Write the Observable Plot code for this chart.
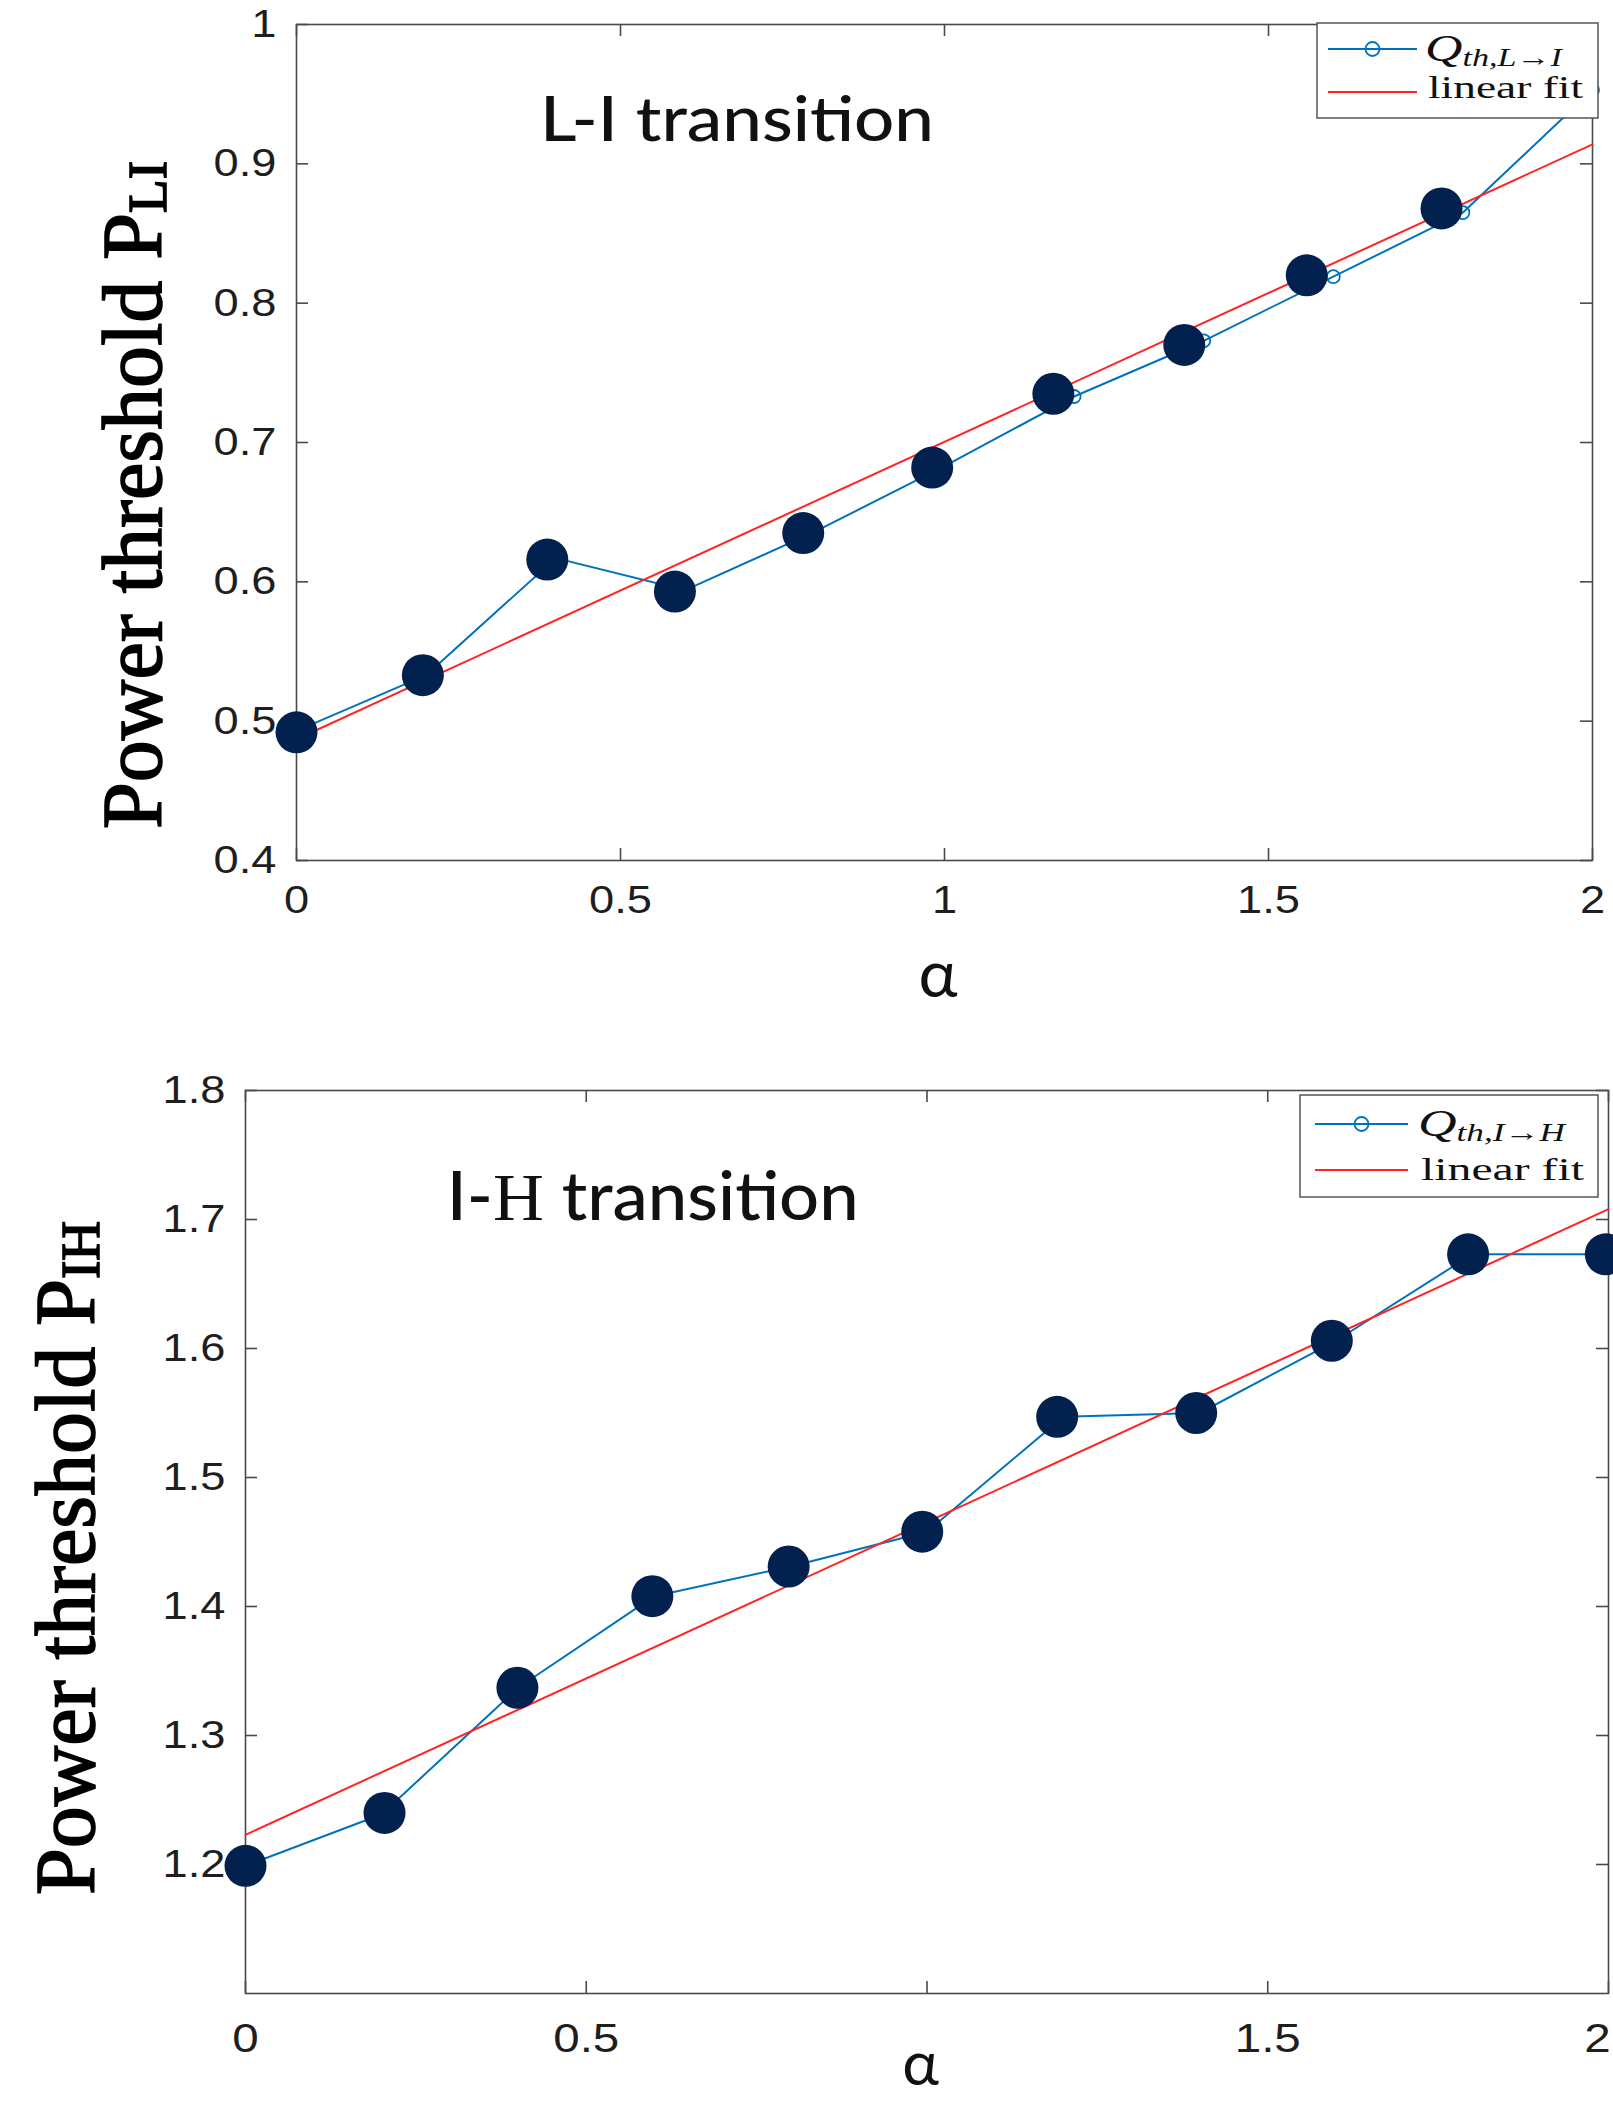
<!DOCTYPE html>
<html><head><meta charset="utf-8">
<script src="https://cdn.jsdelivr.net/npm/d3@7"></script>
<script src="https://cdn.jsdelivr.net/npm/@observablehq/plot@0.6"></script>
<style>
html,body{margin:0;padding:0;background:#fff;overflow:hidden;}
#wrap{position:relative;width:1613px;height:2101px;background:#fff;}
#wrap svg{display:block;position:absolute;left:0;overflow:visible;max-width:none;}
</style></head><body><div id="wrap"></div>
<script>
// ---------- data ----------
// L-I transition
const alphaLI    = [0, 0.2, 0.4, 0.6, 0.8, 1.0, 1.2, 1.4, 1.6, 1.8, 2.0];
const qLI        = [0.493, 0.533, 0.617, 0.594, 0.636, 0.683, 0.733, 0.773, 0.819, 0.865, 0.953];
const dotAlphaLI = [0, 0.195, 0.387, 0.584, 0.782, 0.981, 1.168, 1.370, 1.559, 1.767];
const dotLI      = [0.492, 0.533, 0.616, 0.593, 0.635, 0.682, 0.735, 0.770, 0.820, 0.868];
const fitAlpha   = [0, 2];
const fitLI      = [0.487, 0.914];
// I-H transition
const alphaIH    = [0, 0.2, 0.4, 0.6, 0.8, 1.0, 1.2, 1.4, 1.6, 1.8, 2.0];
const qIH        = [1.199, 1.239, 1.337, 1.408, 1.431, 1.458, 1.547, 1.550, 1.606, 1.673, 1.673];
const dotAlphaIH = [0, 0.204, 0.399, 0.597, 0.797, 0.993, 1.191, 1.395, 1.594, 1.794, 1.996];
const dotIH      = [1.199, 1.240, 1.337, 1.408, 1.431, 1.458, 1.547, 1.550, 1.606, 1.673, 1.673];
const fitIH      = [1.223, 1.708];
// ticks
const xTicks        = [0, 0.5, 1, 1.5, 2];
const xTickLabelsLI = ["0", "0.5", "1", "1.5", "2"];
const xTickLabelsIH = ["0", "0.5", "", "1.5", "2"];
const yTicksLI      = [0.4, 0.5, 0.6, 0.7, 0.8, 0.9, 1];
const yTickLabelsLI = ["0.4", "0.5", "0.6", "0.7", "0.8", "0.9", "1"];
const yTicksIH      = [1.2, 1.3, 1.4, 1.5, 1.6, 1.7, 1.8];
const yTickLabelsIH = ["1.2", "1.3", "1.4", "1.5", "1.6", "1.7", "1.8"];

// ---------- styles ----------
const BLUE = "#0072BD", RED = "#ff2424", NAVY = "#03214f", AXIS = "#4a4a4a", TXT = "#1e1e1e";
const SANS = "'Liberation Sans', Arial, sans-serif";
const SERIF = "'Liberation Serif', 'Times New Roman', serif";
const HUM = "Lato, 'Open Sans', sans-serif";

function chart(o) {
  const fw = o.width - o.ml - o.mr, fh = o.height - o.mt - o.mb, TL = 12;
  const idxL = d3.range(o.lineX.length), idxD = d3.range(o.dotX.length);
  const xlab = new Map(xTicks.map((t, i) => [t, o.xLabels[i]]));
  const ylab = new Map(o.yTicks.map((t, i) => [t, o.yLabels[i]]));
  const svg = Plot.plot({
    width: o.width, height: o.height,
    marginTop: o.mt, marginBottom: o.mb, marginLeft: o.ml, marginRight: o.mr,
    style: {fontFamily: SANS, fontSize: "39px", color: TXT, background: "transparent", overflow: "visible"},
    x: {domain: [0, 2]},
    y: {domain: o.yDomain},
    marks: [
      Plot.frame({stroke: AXIS, strokeWidth: 1.6}),
      Plot.tickX(xTicks, {x: d => d, stroke: AXIS, strokeWidth: 1.6, insetTop: fh - TL}),
      Plot.tickX(xTicks, {x: d => d, stroke: AXIS, strokeWidth: 1.6, insetBottom: fh - TL}),
      Plot.tickY(o.yTicks, {y: d => d, stroke: AXIS, strokeWidth: 1.6, insetRight: fw - TL}),
      Plot.tickY(o.yTicks, {y: d => d, stroke: AXIS, strokeWidth: 1.6, insetLeft: fw - TL}),
      Plot.axisX({anchor: "bottom", ticks: xTicks, tickSize: 0, tickPadding: o.xPad, label: null,
                  tickFormat: d => xlab.get(d), fontSize: o.xFont, fill: TXT}),
      Plot.axisY({anchor: "left", ticks: o.yTicks, tickSize: 0, tickPadding: 20, label: null,
                  tickFormat: d => ylab.get(d), fontSize: 39, fill: TXT}),
      Plot.line(idxL, {x: i => o.lineX[i], y: i => o.lineY[i], stroke: BLUE, strokeWidth: 2}),
      Plot.dot(idxL, {x: i => o.lineX[i], y: i => o.lineY[i], r: 6.5, stroke: BLUE, strokeWidth: 1.8, fill: "none"}),
      Plot.line([0, 1], {x: i => fitAlpha[i], y: i => o.fitY[i], stroke: RED, strokeWidth: 2}),
      Plot.dot(idxD, {x: i => o.dotX[i], y: i => o.dotY[i], r: 21, fill: NAVY, stroke: "none"})
    ]
  });
  const s = d3.select(svg);
  // MATLAB-like horizontally stretched tick labels
  s.selectAll('g[aria-label="x-axis tick label"] text, g[aria-label="y-axis tick label"] text')
    .attr("transform", function () { return (this.getAttribute("transform") || "") + " scale(1.16,1)"; });
  // keep the last x label inside the page when the frame reaches the edge
  if (o.lastLabelEnd) {
    s.selectAll('g[aria-label="x-axis tick label"] text').filter(function () { return this.textContent === "2"; })
      .attr("text-anchor", "end").attr("dx", 2);
  }
  const X = svg.scale("x"), Y = svg.scale("y");

  // in-plot title
  const t = s.append("text")
    .attr("x", X.apply(o.title.x)).attr("y", Y.apply(o.title.y)).attr("text-anchor", "start")
    .attr("font-family", HUM).attr("font-weight", 500).attr("font-size", o.title.size)
    .attr("fill", "#111").attr("textLength", o.title.len).attr("lengthAdjust", "spacingAndGlyphs");
  o.title.parts.forEach(p => t.append("tspan").attr("font-family", p.serif ? SERIF : HUM).text(p.t));

  // alpha axis title
  s.append("text").attr("x", X.apply(1) - 6).attr("y", o.height - o.mb + o.alphaDy)
    .attr("text-anchor", "middle").attr("font-family", HUM).attr("font-size", o.alphaSize).attr("fill", "#111").text("α");

  // y axis title
  const yl = s.append("text")
    .attr("transform", `translate(${o.ylab.x},${o.ylab.y}) rotate(-90)`)
    .attr("text-anchor", "middle").attr("font-family", SERIF).attr("font-size", 84)
    .attr("fill", "#000").attr("stroke", "#000").attr("stroke-width", 1.6);
  yl.append("tspan").text("Power threshold P");
  yl.append("tspan").attr("font-size", 55).attr("dy", 5).text(o.ylab.sub);

  // legend
  const L = o.legend;
  const g = s.append("g").attr("text-anchor", "start");
  g.append("rect").attr("x", L.x0).attr("y", L.y0).attr("width", L.x1 - L.x0).attr("height", L.y1 - L.y0)
    .attr("fill", "#fff").attr("stroke", "#555").attr("stroke-width", 1.5);
  g.append("line").attr("x1", L.lx0).attr("x2", L.lx1).attr("y1", L.r1).attr("y2", L.r1)
    .attr("stroke", BLUE).attr("stroke-width", 2);
  g.append("circle").attr("cx", (L.lx0 + L.lx1) / 2).attr("cy", L.r1).attr("r", 7)
    .attr("fill", "none").attr("stroke", BLUE).attr("stroke-width", 1.8);
  g.append("line").attr("x1", L.lx0).attr("x2", L.lx1).attr("y1", L.r2).attr("y2", L.r2)
    .attr("stroke", RED).attr("stroke-width", 2);
  const q = g.append("text").attr("x", L.tx).attr("y", L.b1).attr("text-anchor", "start").attr("font-family", SERIF)
    .attr("font-style", "italic").attr("font-size", 38).attr("fill", "#111")
    .attr("textLength", L.qlen).attr("lengthAdjust", "spacingAndGlyphs");
  q.append("tspan").text("Q");
  q.append("tspan").attr("font-size", 25).attr("dy", 5).text(L.qsub);
  g.append("text").attr("x", L.tx + 3).attr("y", L.b2).attr("text-anchor", "start").attr("font-family", SERIF).attr("font-size", 32)
    .attr("fill", "#111").attr("textLength", L.flen).attr("lengthAdjust", "spacingAndGlyphs").text("linear fit");
  return svg;
}

const chartLI = chart({
  width: 1613, height: 1040, mt: 24, mb: 180, ml: 296, mr: 21,
  yDomain: [0.4, 1], yTicks: yTicksLI, yLabels: yTickLabelsLI, xLabels: xTickLabelsLI,
  xFont: 39, xPad: 25, alphaDy: 137, alphaSize: 66,
  lineX: alphaLI, lineY: qLI, dotX: dotAlphaLI, dotY: dotLI, fitY: fitLI,
  title: {x: 0.3765, y: 0.916, size: 61, len: 394, parts: [{t: "L-I transition"}]},
  ylab: {x: 161, y: 495, sub: "LI"},
  legend: {x0: 1317, x1: 1598, y0: 23, y1: 118, lx0: 1328, lx1: 1417, r1: 49, r2: 92,
           tx: 1425, b1: 61, b2: 98, qlen: 137, flen: 155, qsub: "th,L→I"}
});
const chartIH = chart({
  width: 1613, height: 1061, mt: 50, mb: 108, ml: 245, mr: 5,
  yDomain: [1.1, 1.8], yTicks: yTicksIH, yLabels: yTickLabelsIH, xLabels: xTickLabelsIH,
  xFont: 41, xPad: 29, alphaDy: 92, alphaSize: 62, lastLabelEnd: true,
  lineX: alphaIH, lineY: qIH, dotX: dotAlphaIH, dotY: dotIH, fitY: fitIH,
  title: {x: 0.296, y: 1.699, size: 68, len: 412, parts: [{t: "I-"}, {t: "H", serif: true}, {t: " transition"}]},
  ylab: {x: 94, y: 518, sub: "IH"},
  legend: {x0: 1300, x1: 1598, y0: 55, y1: 157, lx0: 1315, lx1: 1408, r1: 84, r2: 130,
           tx: 1418, b1: 96, b2: 140, qlen: 147, flen: 163, qsub: "th,I→H"}
});
chartLI.style.top = "0px";
chartIH.style.top = "1040px";
document.getElementById("wrap").append(chartLI, chartIH);
</script></body></html>
